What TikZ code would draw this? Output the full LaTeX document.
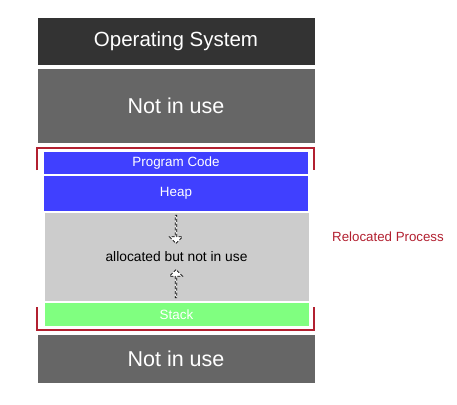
\documentclass[tikz,border=0pt]{standalone}
\usepackage{fontspec}
\setmainfont{Liberation Sans}
\usetikzlibrary{shapes.arrows}
\definecolor{osgray}{HTML}{333333}
\definecolor{freegray}{HTML}{666666}
\definecolor{procblue}{HTML}{4040FF}
\definecolor{gapgray}{HTML}{CCCCCC}
\definecolor{stackgreen}{HTML}{80FF80}
\definecolor{relred}{HTML}{B22030}

\begin{document}
\begin{tikzpicture}[x=1pt, y=-1pt,
    memblk/.style={minimum width=277pt, inner sep=0pt, text=white},
    procblk/.style={minimum width=264pt, inner sep=0pt},
    gaparr/.style={single arrow, draw, line width=0.8pt, dash pattern=on 3pt off 2pt, fill=white,
        inner sep=0pt, minimum width=13pt, single arrow head extend=3.5pt, minimum height=28pt},
    brk/.style={draw=relred, line width=2pt}
]
\useasboundingbox (0,0) rectangle (457,404);

\node[memblk, fill=osgray, minimum height=47pt, font=\fontsize{20.5}{22}\selectfont] (os) at (176,41.5) {Operating System};
\node[memblk, fill=freegray, minimum height=74pt, font=\fontsize{21.5}{23}\selectfont] (free1) at (176,106) {Not in use};

\node[procblk, fill=procblue, text=white, minimum height=22pt, font=\fontsize{13.4}{15}\selectfont] (code) at (176,163) {Program Code};
\node[procblk, fill=procblue, text=white, minimum height=35pt, font=\fontsize{13.4}{15}\selectfont] (heap) at (176,193.5) {Heap};
\node[procblk, fill=gapgray, minimum height=88pt, font=\fontsize{13.8}{15}\selectfont] (gap) at (176.5,257) {allocated but not in use};
\node[procblk, fill=stackgreen, text=white, minimum height=23pt, font=\fontsize{13.4}{15}\selectfont] (stack) at (176.5,314.5) {Stack};

\node[memblk, fill=freegray, minimum height=48pt, font=\fontsize{21.5}{23}\selectfont] (free2) at (176,359) {Not in use};

% growth arrows
\node[gaparr, rotate=-90] (down) at (176,229) {};
\node[gaparr, rotate=90] (up) at (176,284) {};

% relocated process brackets
\draw[brk] (37,170) -- (37,148) -- (314,148) -- (314,170);
\draw[brk] (37,307) -- (37,330) -- (314,330) -- (314,307);
\node[text=relred, font=\fontsize{13.3}{15}\selectfont] (rel) at (388,237) {Relocated Process};
\end{tikzpicture}
\end{document}
